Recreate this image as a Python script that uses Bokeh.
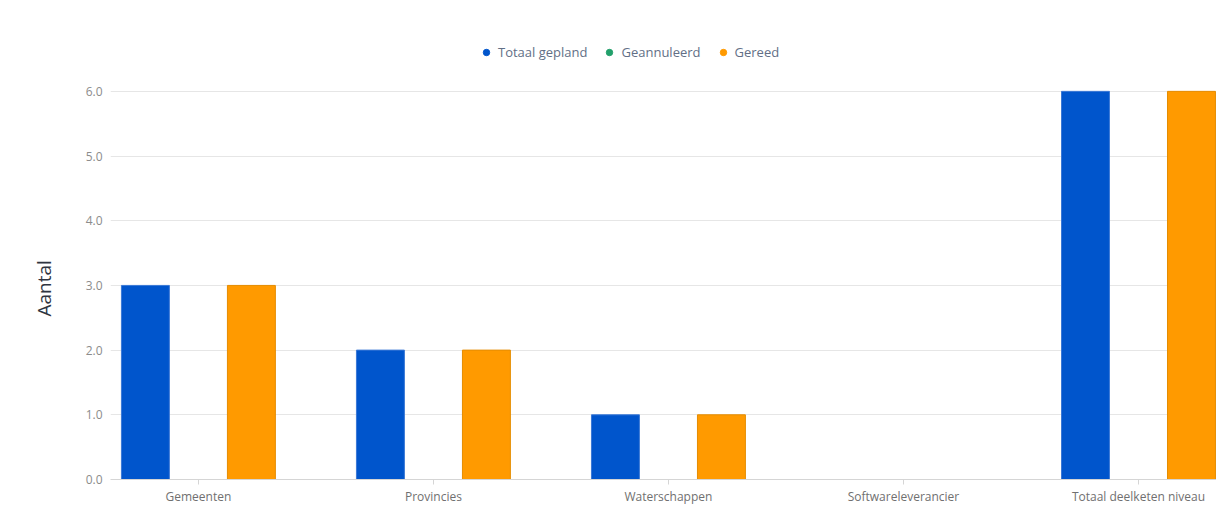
import numpy as np
from bokeh.plotting import figure
from bokeh.models import Range1d, FixedTicker, Legend, LegendItem, NumeralTickFormatter, Title
from bokeh.embed import file_html
from bokeh.resources import INLINE

categories = ["Gemeenten", "Provincies", "Waterschappen", "Softwareleverancier", "Totaal deelketen niveau"]
series_names = ["Totaal gepland", "Geannuleerd", "Gereed"]
totaal_gepland = [3, 2, 1, 0, 6]
geannuleerd = [0, 0, 0, 0, 0]
gereed = [3, 2, 1, 0, 6]
y_ticks = [0, 1, 2, 3, 4, 5, 6]

colors = ["#0055CC", "#22A06B", "#FF9A00"]
edge_colors = ["#3A78D6", "#22A06B", "#E58C00"]
FONT = "Open Sans"

# frame spans page y 30..480; value 6 sits at y=91
p = figure(width=1216, height=507, output_backend="svg", toolbar_location=None,
           x_range=Range1d(-0.374, 4.332), y_range=Range1d(0, 6.941),
           min_border_left=110, min_border_right=0, min_border_top=30, min_border_bottom=27)
p.outline_line_color = None
p.background_fill_color = "white"
p.border_fill_color = "white"

idx = np.arange(len(categories))
offsets = [-0.2255, 0.0, 0.2255]
for vals, off, c, ec in zip([totaal_gepland, geannuleerd, gereed], offsets, colors, edge_colors):
    p.vbar(x=idx + off, top=vals, width=0.204, fill_color=c, line_color=ec, line_width=1)

# axes
p.xaxis.ticker = FixedTicker(ticks=list(idx))
p.xaxis.major_label_overrides = {int(i): c for i, c in zip(idx, categories)}
p.xaxis.axis_line_color = "#D5D5D5"
p.xaxis.major_tick_line_color = "#D5D5D5"
p.xaxis.major_tick_in = 0
p.xaxis.major_tick_out = 5
p.xaxis.minor_tick_line_color = None
p.xaxis.major_label_text_font = FONT
p.xaxis.major_label_text_font_size = "12px"
p.xaxis.major_label_text_color = "#707070"
p.xaxis.major_label_standoff = 3

p.yaxis.ticker = FixedTicker(ticks=y_ticks)
p.yaxis.formatter = NumeralTickFormatter(format="0.0")
p.yaxis.axis_line_color = None
p.yaxis.major_tick_line_color = None
p.yaxis.minor_tick_line_color = None
p.yaxis.major_label_text_font = FONT
p.yaxis.major_label_text_font_size = "12px"
p.yaxis.major_label_text_color = "#8C8C8C"
p.yaxis.major_label_standoff = 2

p.xgrid.grid_line_color = None
p.ygrid.grid_line_color = "#E6E6E6"
p.ygrid.grid_line_width = 1

# y axis title as a side title, positioned from the frame bottom
ytitle = Title(text="Aantal", align="left", offset=163, vertical_align="top", standoff=48,
               text_font=FONT, text_font_size="19px", text_font_style="normal",
               text_color="#2E3440")
p.add_layout(ytitle, "left")

# legend with circle markers
dots = []
for c in colors:
    d = p.scatter(x=[np.nan], y=[np.nan], marker="circle", size=11, fill_color=c, line_color=c)
    dots.append(d)
legend = Legend(items=[LegendItem(label=n, renderers=[d]) for n, d in zip(series_names, dots)],
                orientation="horizontal", location=(368, 418), padding=0, margin=0,
                spacing=14, glyph_width=16, glyph_height=16, label_standoff=4,
                border_line_color=None, background_fill_alpha=0,
                label_text_font=FONT, label_text_font_size="13px", label_text_color="#626F86")
p.add_layout(legend, "center")

open("out.html", "w").write(file_html(p, INLINE))
